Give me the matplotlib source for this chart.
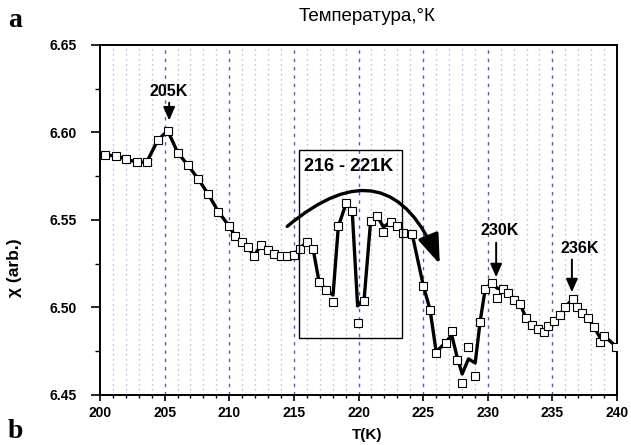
import matplotlib
matplotlib.use("Agg")
import matplotlib.pyplot as plt
from matplotlib.patches import Rectangle, FancyArrowPatch
from matplotlib.ticker import MultipleLocator

plt.rcParams['font.family'] = ['Liberation Sans', 'DejaVu Sans']

# measured points (squares)
t_pts = [200.39, 201.22, 201.99, 202.84, 203.61, 204.47, 205.24, 206.01, 206.79, 207.61,
         208.38, 209.16, 209.98, 210.45, 210.97, 211.43, 211.92, 212.46, 213.03, 213.47,
         213.97, 214.45, 214.98, 215.44, 216.00, 216.49, 216.95, 217.49, 218.03, 218.44,
         219.04, 219.51, 219.93, 220.43, 220.94, 221.46, 221.93, 222.50, 222.97, 223.48,
         224.15, 225.02, 225.54, 226.01, 226.78, 227.21, 227.59, 228.02, 228.51, 229.03,
         229.41, 229.80, 230.32, 230.73, 231.19, 231.60, 232.04, 232.51, 232.97, 233.41,
         233.85, 234.37, 234.70, 235.14, 235.60, 235.99, 236.59, 236.90, 237.33, 237.79,
         238.24, 238.65, 239.03, 239.94]
chi_pts = [6.5871, 6.5866, 6.5849, 6.5830, 6.5830, 6.5957, 6.6010, 6.5885, 6.5814, 6.5733,
           6.5647, 6.5547, 6.5466, 6.5409, 6.5374, 6.5343, 6.5294, 6.5357, 6.5329, 6.5306,
           6.5294, 6.5294, 6.5300, 6.5334, 6.5374, 6.5334, 6.5146, 6.5100, 6.5029, 6.5463,
           6.5595, 6.5554, 6.4911, 6.5037, 6.5496, 6.5520, 6.5433, 6.5489, 6.5466, 6.5423,
           6.5420, 6.5123, 6.4986, 6.4740, 6.4797, 6.4866, 6.4700, 6.4569, 6.4774, 6.4606,
           6.4919, 6.5104, 6.5140, 6.5053, 6.5103, 6.5081, 6.5043, 6.5020, 6.4938, 6.4900,
           6.4875, 6.4862, 6.4894, 6.4925, 6.4957, 6.5005, 6.5047, 6.5005, 6.4970, 6.4938,
           6.4887, 6.4805, 6.4837, 6.4776]

# smoothed curve drawn through the points
t_line = [200.0] + t_pts
chi_line = [6.5871,
            6.5871, 6.5866, 6.5849, 6.5830, 6.5830, 6.5957, 6.6010, 6.5885, 6.5814, 6.5733,
            6.5647, 6.5547, 6.5466, 6.5409, 6.5374, 6.5343, 6.5294, 6.5357, 6.5329, 6.5306,
            6.5294, 6.5294, 6.5300, 6.5334, 6.5374, 6.5334, 6.5146, 6.5100, 6.5071, 6.5463,
            6.5595, 6.5554, 6.5009, 6.5043, 6.5496, 6.5520, 6.5460, 6.5489, 6.5466, 6.5423,
            6.5420, 6.5123, 6.4986, 6.4746, 6.4803, 6.4843, 6.4729, 6.4620, 6.4706, 6.4683,
            6.4919, 6.5104, 6.5140, 6.5110, 6.5103, 6.5081, 6.5043, 6.5020, 6.4938, 6.4900,
            6.4875, 6.4862, 6.4894, 6.4925, 6.4957, 6.5005, 6.5047, 6.5005, 6.4970, 6.4938,
            6.4887, 6.4833, 6.4837, 6.4776]

peak_labels = ["205K", "230K", "236K"]
peak_text_pos = [(205.29, 6.6233), (230.96, 6.5439), (237.10, 6.5338)]
peak_arrows = [((205.35, 6.6186), (205.35, 6.6053)),
               ((230.65, 6.5386), (230.65, 6.5157)),
               ((236.51, 6.5290), (236.51, 6.5071))]

fig = plt.figure(figsize=(6.31, 4.45), dpi=100)
ax = fig.add_axes([0.1585, 0.1124, 0.8193, 0.7865])

# vertical grid: dotted every 1 K, dashed every 5 K
for t in range(201, 240):
    if t % 5 == 0:
        ax.axvline(t, color='#5a5ab4', lw=1.0, ls=(0, (2.5, 3.5)), zorder=0)
    else:
        ax.axvline(t, color='#a8a8d8', lw=0.9, ls=(0, (1, 3)), zorder=0)

ax.plot(t_line, chi_line, color='black', lw=2.4, zorder=2, solid_joinstyle='round')
ax.plot(t_pts, chi_pts, ls='none', marker='s', ms=5.6, mfc='white', mec='black',
        mew=0.8, zorder=3)

ax.set_xlim(200, 240)
ax.set_ylim(6.45, 6.65)
ax.xaxis.set_major_locator(MultipleLocator(5))
ax.xaxis.set_minor_locator(MultipleLocator(1))
ax.yaxis.set_major_locator(MultipleLocator(0.05))
ax.yaxis.set_minor_locator(MultipleLocator(0.025))
ax.yaxis.set_major_formatter(plt.FormatStrFormatter('%.2f'))
ax.tick_params(axis='x', which='major', length=4, width=1.2, pad=4, labelsize=10)
ax.tick_params(axis='x', which='minor', length=2.5, width=1.0)
ax.tick_params(axis='y', which='major', length=6.5, width=1.2, pad=10, labelsize=10)
ax.tick_params(axis='y', which='minor', length=3.5, width=1.0)
for lab in ax.get_xticklabels() + ax.get_yticklabels():
    lab.set_fontweight('bold')
for s in ax.spines.values():
    s.set_linewidth(1.4)

ax.set_xlabel("T(K)", fontsize=11, fontweight='bold')
ax.set_ylabel("χ (arb.)", fontsize=12.5, fontweight='bold')
ax.xaxis.set_label_coords(0.516, -0.093)
ax.yaxis.set_label_coords(-0.151, 0.363)

# box around the 216-221K region
ax.add_patch(Rectangle((215.43, 6.4824), 223.40 - 215.43, 6.59 - 6.4824,
                       fill=False, ec='black', lw=1.0, zorder=4))
ax.text(219.22, 6.5805, "216 - 221K", ha='center', va='center', fontsize=13,
        fontweight='bold', zorder=5)

# big curved arrow
ax.add_patch(FancyArrowPatch((214.32, 6.5453), (226.37, 6.5233),
                             connectionstyle="arc3,rad=-0.7",
                             arrowstyle="-|>,head_length=1.8,head_width=0.65",
                             mutation_scale=10, lw=2.4, color='black', zorder=5))

for lab, pos, (a0, a1) in zip(peak_labels, peak_text_pos, peak_arrows):
    ax.text(pos[0], pos[1], lab, ha='center', va='center', fontsize=11.5,
            fontweight='bold', zorder=5)
    ax.annotate("", xy=a1, xytext=a0,
                arrowprops=dict(arrowstyle="-|>,head_length=0.8,head_width=0.35",
                                mutation_scale=10, lw=1.4, color='black'), zorder=5)

fig.text(0.5816, 0.962, "Температура,°К", ha='center', va='center', fontsize=13.5)
fig.text(0.024, 0.955, "a", ha='center', va='center', fontsize=20,
         fontweight='bold', family='Liberation Serif')
fig.text(0.024, 0.03, "b", ha='center', va='center', fontsize=20,
         fontweight='bold', family='Liberation Serif')

fig.savefig("out.png", dpi=100)
